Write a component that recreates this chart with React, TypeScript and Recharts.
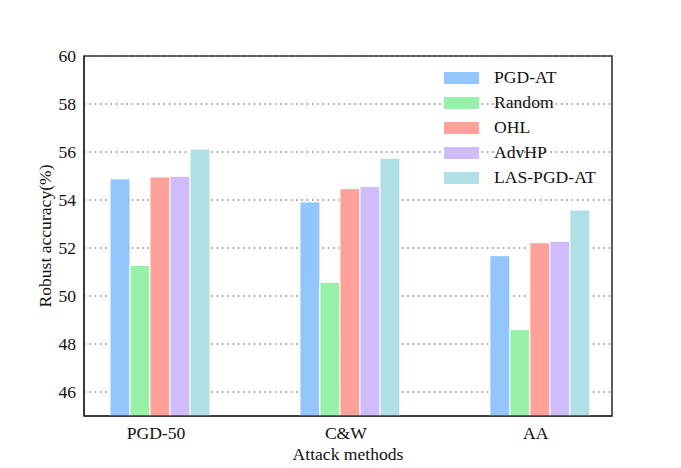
import React from "react";
import {
  BarChart,
  Bar,
  XAxis,
  YAxis,
  CartesianGrid,
  ReferenceArea,
} from "recharts";

const CATEGORIES = ["PGD-50", "C&W", "AA"];
const PGD_AT = [54.88, 53.92, 51.68];
const RANDOM = [51.28, 50.57, 48.6];
const OHL = [54.96, 54.47, 52.22];
const ADVHP = [54.99, 54.56, 52.28];
const LAS_PGD_AT = [56.12, 55.74, 53.58];
const Y_TICKS = [46, 48, 50, 52, 54, 56, 58, 60];

const SERIES = [
  { key: "pgdat", name: "PGD-AT", color: "#93C6FC", values: PGD_AT },
  { key: "random", name: "Random", color: "#98F0A9", values: RANDOM },
  { key: "ohl", name: "OHL", color: "#FFA099", values: OHL },
  { key: "advhp", name: "AdvHP", color: "#D0BBFB", values: ADVHP },
  { key: "las", name: "LAS-PGD-AT", color: "#B0E0E6", values: LAS_PGD_AT },
];

const data = CATEGORIES.map((c, i) => {
  const row: Record<string, number | string> = { idx: i, name: c };
  SERIES.forEach((s) => {
    row[s.key] = s.values[i];
  });
  return row;
});

const FONT = "'Liberation Serif', 'Times New Roman', serif";
const FS = 17.6;
const X_DOMAIN: [number, number] = [-0.4, 2.38];

const LegendBox = () => (
  <div
    style={{
      position: "absolute",
      left: 444,
      top: 65,
      fontFamily: FONT,
      fontSize: FS,
      color: "#111",
    }}
  >
    {SERIES.map((s) => (
      <div key={s.key} style={{ display: "flex", alignItems: "center", height: 25.1 }}>
        <div style={{ width: 35, height: 12, background: s.color, marginRight: 15 }} />
        <span style={{ lineHeight: "25px", whiteSpace: "nowrap" }}>{s.name}</span>
      </div>
    ))}
  </div>
);

const XTitle = (props: any) => {
  const { viewBox } = props;
  return (
    <text
      x={viewBox.x + viewBox.width / 2}
      y={viewBox.y + 44}
      textAnchor="middle"
      fontFamily={FONT}
      fontSize={FS}
      fill="#111"
    >
      Attack methods
    </text>
  );
};

const YTitle = (props: any) => {
  const { viewBox } = props;
  const cx = 51;
  const cy = viewBox.y + viewBox.height / 2;
  return (
    <text
      x={cx}
      y={cy}
      transform={`rotate(-90, ${cx}, ${cy})`}
      textAnchor="middle"
      fontFamily={FONT}
      fontSize={FS}
      fill="#111"
    >
      Robust accuracy(%)
    </text>
  );
};

export default function App() {
  return (
    <div style={{ position: "absolute", left: 0, top: 0, width: 681, height: 468, background: "#fff" }}>
      <BarChart
        width={681}
        height={468}
        data={data}
        margin={{ top: 56, right: 69, bottom: 0, left: 0 }}
        barGap={0}
      >
        <CartesianGrid
          vertical={false}
          stroke="#8a8a8a"
          strokeWidth={1.6}
          strokeDasharray="1.6 3.7"
        />
        <XAxis
          dataKey="idx"
          type="number"
          domain={X_DOMAIN}
          allowDataOverflow
          ticks={[0, 1, 2]}
          interval={0}
          tickFormatter={(v: number) => CATEGORIES[v]}
          tickLine={false}
          tickSize={0}
          tickMargin={11}
          axisLine={{ stroke: "#333", strokeWidth: 1.6 }}
          tick={{ fontFamily: FONT, fontSize: FS, fill: "#111", dx: -4 }}
          height={52}
          label={<XTitle />}
        />
        <YAxis
          domain={[45, 60]}
          ticks={Y_TICKS}
          interval={0}
          allowDataOverflow
          tickLine={false}
          tickSize={0}
          tickMargin={8}
          axisLine={{ stroke: "#333", strokeWidth: 1.6 }}
          tick={{ fontFamily: FONT, fontSize: FS, fill: "#111" }}
          width={84}
          label={<YTitle />}
        />
        {SERIES.map((s) => (
          <Bar
            key={s.key}
            dataKey={s.key}
            name={s.name}
            fill={s.color}
            stroke="#fff"
            strokeWidth={1}
            barSize={20}
            isAnimationActive={false}
          />
        ))}
        <ReferenceArea
          x1={X_DOMAIN[0]}
          x2={X_DOMAIN[1]}
          y1={45}
          y2={60}
          fill="none"
          stroke="#333"
          strokeWidth={1.6}
          ifOverflow="visible"
        />
      </BarChart>
      <LegendBox />
    </div>
  );
}
